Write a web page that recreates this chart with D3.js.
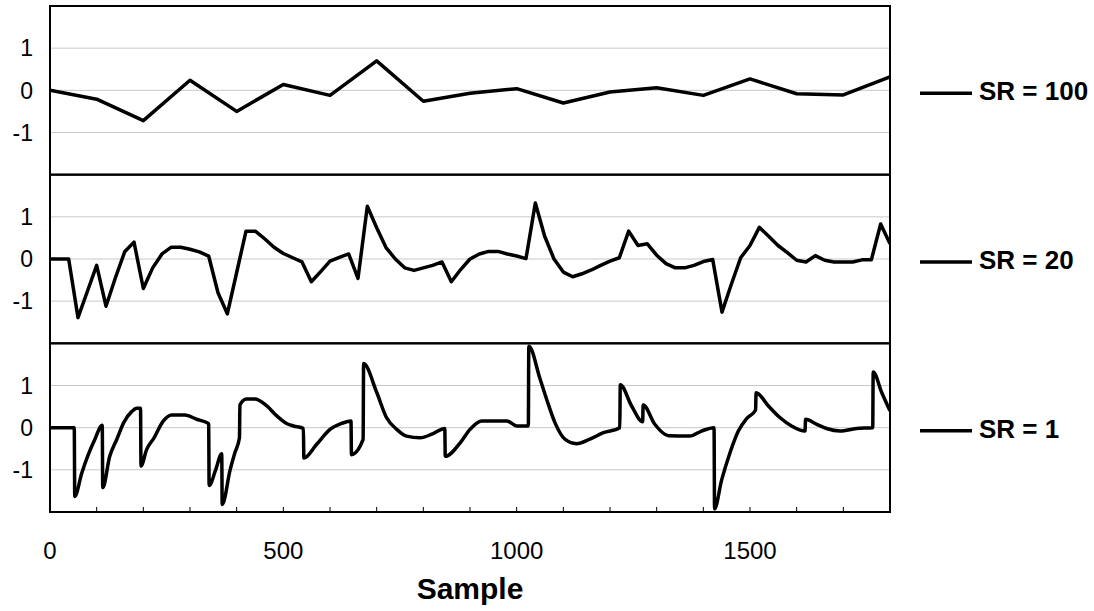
<!DOCTYPE html>
<html>
<head>
<meta charset="utf-8">
<script src="https://cdn.jsdelivr.net/npm/d3@7"></script>
<style>
  body { margin: 0; background: #fff; }
  text { font-family: "Liberation Sans", Arial, sans-serif; }
</style>
</head>
<body>
<script>
const width = 1094;
const height = 611;

// SR = 100: one value every 100 samples
const sr100Samples = d3.range(0, 1801, 100);
const sr100Values = [0, -0.21, -0.72, 0.24, -0.5, 0.14, -0.12, 0.7, -0.26, -0.07,
  0.04, -0.3, -0.04, 0.06, -0.12, 0.27, -0.08, -0.11, 0.32];

// SR = 20: one value every 20 samples
const sr20Samples = d3.range(0, 1801, 20);
const sr20Values = [0, 0, 0, -1.39, -0.77, -0.15, -1.12, -0.45, 0.17, 0.4,
  -0.7, -0.21, 0.12, 0.28, 0.28, 0.23, 0.17, 0.07, -0.8, -1.3,
  -0.32, 0.66, 0.66, 0.48, 0.28, 0.13, 0.03, -0.07, -0.54, -0.3,
  -0.05, 0.04, 0.12, -0.46, 1.25, 0.74, 0.27, 0.0, -0.21, -0.27,
  -0.21, -0.15, -0.07, -0.54, -0.25, 0, 0.12, 0.18, 0.18, 0.12,
  0.07, 0.01, 1.33, 0.54, 0.0, -0.31, -0.42, -0.35, -0.26, -0.15,
  -0.05, 0.03, 0.66, 0.32, 0.36, 0.09, -0.11, -0.21, -0.21, -0.15,
  -0.06, -0.01, -1.26, -0.6, 0.03, 0.32, 0.75, 0.54, 0.32, 0.15,
  -0.03, -0.07, 0.08, -0.03, -0.07, -0.07, -0.07, -0.02, -0.02, 0.83,
  0.36];

// SR = 1: points (sample, value)
const sr1Samples = [0, 52, 53, 68, 82, 96, 112, 113, 128, 143, 158, 175, 186, 194, 195,
  207, 223, 243, 261, 289, 314, 339, 340, 341, 355, 368, 369, 386, 396, 406,
  407, 421, 439, 464, 486, 507, 522, 543, 544, 571, 600, 625, 645, 646, 671,
  672, 700, 721, 743, 764, 793, 821, 846, 847, 879, 900, 925, 979, 1000, 1025,
  1026, 1050, 1064, 1082, 1104, 1128, 1157, 1186, 1221, 1222, 1246, 1270, 1271, 1296, 1325,
  1371, 1396, 1423, 1424, 1439, 1457, 1475, 1493, 1512, 1513, 1539, 1564, 1589, 1618, 1619,
  1643, 1664, 1693, 1728, 1763, 1764, 1782, 1800];
const sr1Values = [0, 0, -1.63, -1.08, -0.64, -0.28, 0.06, -1.42, -0.68, -0.28, 0.12, 0.38, 0.46, 0.46, -0.91,
  -0.52, -0.24, 0.16, 0.3, 0.3, 0.2, 0.1, 0.08, -1.37, -1.0, -0.62, -1.82, -1.0, -0.6, -0.24,
  0.54, 0.68, 0.68, 0.52, 0.28, 0.1, 0.04, -0.02, -0.72, -0.4, -0.04, 0.1, 0.16, -0.64, -0.28,
  1.52, 0.84, 0.24, -0.04, -0.2, -0.24, -0.14, -0.02, -0.68, -0.36, -0.04, 0.16, 0.16, 0.04, 0.04,
  1.93, 1.16, 0.68, 0.12, -0.28, -0.38, -0.27, -0.12, 0.0, 1.02, 0.52, 0.14, 0.54, 0.08, -0.19,
  -0.2, -0.08, 0.0, -1.93, -1.25, -0.6, -0.08, 0.22, 0.42, 0.83, 0.52, 0.24, 0.04, -0.08, 0.2,
  0.08, -0.02, -0.08, -0.02, 0.0, 1.32, 0.84, 0.4];

const panelNames = ["SR = 100", "SR = 20", "SR = 1"];
const yTicks = [-1, 0, 1];
const xTicks = [0, 500, 1000, 1500];

const panels = [
  { name: panelNames[0], x: sr100Samples, y: sr100Values, curve: d3.curveLinear },
  { name: panelNames[1], x: sr20Samples, y: sr20Values, curve: d3.curveLinear },
  { name: panelNames[2], x: sr1Samples, y: sr1Values, curve: d3.curveMonotoneX }
];

const plotLeft = 50, plotRight = 890, plotTop = 6, plotBottom = 512;
const panelH = (plotBottom - plotTop) / 3;

const x = d3.scaleLinear().domain([0, 1800]).range([plotLeft, plotRight]);

const svg = d3.select("body")
  .append("svg")
  .attr("width", width)
  .attr("height", height);

panels.forEach((p, i) => {
  const y0 = plotTop + i * panelH;
  const y = d3.scaleLinear().domain([-2, 2]).range([y0 + panelH, y0]);

  const g = svg.append("g");

  // gridlines
  g.selectAll("line.grid")
    .data(yTicks)
    .join("line")
    .attr("x1", plotLeft).attr("x2", plotRight)
    .attr("y1", d => y(d)).attr("y2", d => y(d))
    .attr("stroke", "#c8c8c8")
    .attr("stroke-width", 1);

  // y tick labels
  g.selectAll("text.ytick")
    .data(yTicks)
    .join("text")
    .attr("x", 33)
    .attr("y", d => y(d))
    .attr("dy", "0.36em")
    .attr("text-anchor", "end")
    .attr("font-size", 23)
    .text(d => d);

  g.append("clipPath")
    .attr("id", "clip" + i)
    .append("rect")
    .attr("x", plotLeft).attr("y", y0)
    .attr("width", plotRight - plotLeft).attr("height", panelH);

  const line = d3.line()
    .x(d => x(d[0]))
    .y(d => y(d[1]))
    .curve(p.curve);

  g.append("path")
    .datum(d3.zip(p.x, p.y))
    .attr("clip-path", `url(#clip${i})`)
    .attr("fill", "none")
    .attr("stroke", "#000")
    .attr("stroke-width", 3.5)
    .attr("stroke-linejoin", "round")
    .attr("d", line);

  // panel frame
  g.append("rect")
    .attr("x", plotLeft).attr("y", y0)
    .attr("width", plotRight - plotLeft).attr("height", panelH)
    .attr("fill", "none")
    .attr("stroke", "#000")
    .attr("stroke-width", 2);

  // legend entry
  const ly = y(0) + 3;
  g.append("line")
    .attr("x1", 920).attr("x2", 972)
    .attr("y1", ly).attr("y2", ly)
    .attr("stroke", "#000")
    .attr("stroke-width", 3.5);
  g.append("text")
    .attr("x", 979)
    .attr("y", ly + 7)
    .attr("font-size", 26)
    .attr("font-weight", "bold")
    .text(p.name);
});

// minor ticks along the bottom
svg.append("g")
  .selectAll("line")
  .data(d3.range(100, 1800, 100))
  .join("line")
  .attr("x1", d => x(d)).attr("x2", d => x(d))
  .attr("y1", plotBottom).attr("y2", plotBottom - 5)
  .attr("stroke", "#000")
  .attr("stroke-width", 1);

svg.append("g")
  .selectAll("text")
  .data(xTicks)
  .join("text")
  .attr("x", d => x(d))
  .attr("y", 559)
  .attr("text-anchor", "middle")
  .attr("font-size", 24)
  .text(d => d);

svg.append("text")
  .attr("x", (plotLeft + plotRight) / 2)
  .attr("y", 599)
  .attr("text-anchor", "middle")
  .attr("font-size", 30)
  .attr("font-weight", "bold")
  .text("Sample");
</script>
</body>
</html>
